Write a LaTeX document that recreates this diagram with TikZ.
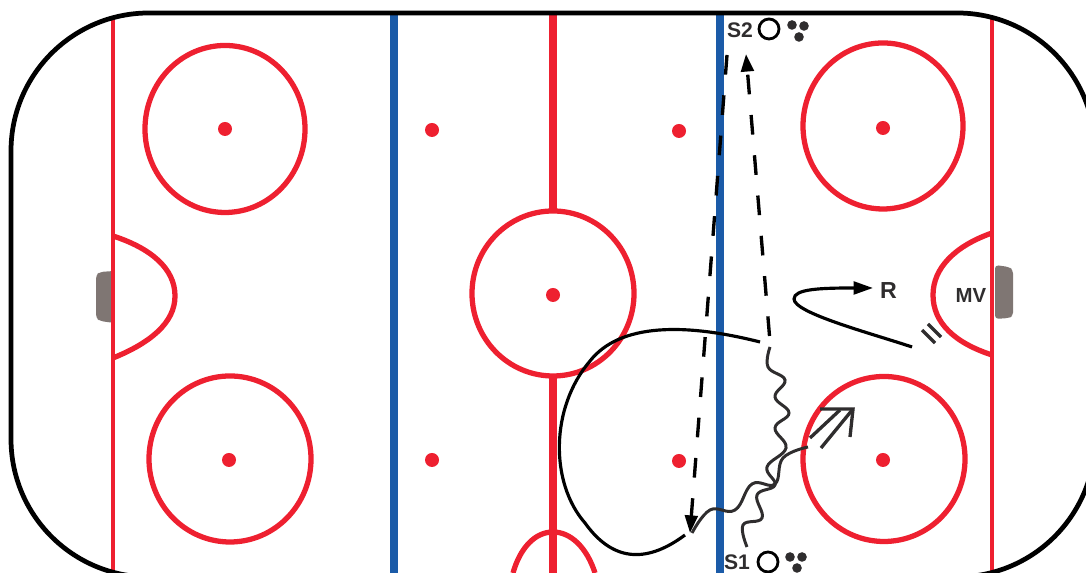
\documentclass[tikz,border=0pt]{standalone}
\usepackage{fontspec}
\setmainfont{Liberation Sans}
\usetikzlibrary{arrows.meta}
\definecolor{rinkred}{HTML}{EE2030}
\definecolor{rinkblue}{HTML}{1B5BA8}
\definecolor{goalgrey}{HTML}{7F7673}
\definecolor{labelgrey}{HTML}{2F2D2E}
\tikzset{
  board/.style={line width=1.35pt,black},
  redline/.style={line width=1.5pt,rinkred},
  goalline/.style={line width=1.1pt,rinkred},
  blueline/.style={line width=2.3pt,rinkblue},
  centerline/.style={line width=2.3pt,rinkred},
  pass/.style={line width=0.95pt,black,dash pattern=on 5.6pt off 5.9pt,-{Triangle[length=5pt,width=3.6pt]}},
  skate/.style={line width=0.9pt,black},
  puck/.style={line width=0.85pt,labelgrey,smooth,tension=0.7},
  shot/.style={line width=0.95pt,labelgrey},
  label/.style={font=\bfseries\fontsize{6}{7}\selectfont,text=labelgrey,inner sep=0pt},
  cone/.style={circle,draw=black,line width=0.8pt,minimum size=0.2cm,inner sep=0pt},
}
\begin{document}
\begin{tikzpicture}[scale=1]
  \useasboundingbox (0.00,0.00) rectangle (10.86,5.73);

  % Coordinates
  \coordinate (CircleNW) at (2.25,4.44);
  \coordinate (CircleNE) at (8.83,4.47);
  \coordinate (CircleSW) at (2.30,1.14);
  \coordinate (CircleSE) at (8.84,1.14);
  \coordinate (CircleC) at (5.53,2.795);
  \coordinate (PassOneA) at (7.27,5.18);
  \coordinate (PassOneB) at (6.90,0.40);
  \coordinate (PassTwoA) at (7.695,2.37);
  \coordinate (PassTwoB) at (7.46,5.19);
  \coordinate (LoopA) at (7.60,2.31);
  \coordinate (LoopB) at (6.85,0.38);
  \coordinate (TurnA) at (9.12,2.26);
  \coordinate (TurnB) at (8.73,2.85);
  \coordinate (ShotA) at (8.10,1.35);
  \coordinate (ShotB) at (8.40,1.63);
  \coordinate (ShotC) at (8.21,1.25);
  \coordinate (ShotD) at (8.53,1.64);
  \coordinate (BarA) at (9.22,2.43);
  \coordinate (BarB) at (9.35,2.30);
  \coordinate (BarC) at (9.28,2.49);
  \coordinate (BarD) at (9.41,2.36);

  % Goals
  \fill[goalgrey,rounded corners=1pt] (1.14,3.02) -- (1.00,3.01) -- (0.96,2.98) -- (0.96,2.55) -- (1.00,2.52) -- (1.14,2.50) -- cycle;
  \fill[goalgrey,rounded corners=1pt] (9.95,3.08) -- (10.09,3.06) -- (10.13,3.03) -- (10.13,2.57) -- (10.09,2.55) -- (9.95,2.54) -- cycle;

  % Ice markings
  \draw[goalline] (1.13,5.57) -- (1.13,0.00);
  \draw[goalline] (9.92,5.57) -- (9.92,0.00);
  \draw[blueline] (3.94,5.60) -- (3.94,0.00);
  \draw[blueline] (7.20,5.60) -- (7.20,0.00);
  \draw[centerline] (5.53,5.60) -- (5.53,3.62);
  \draw[centerline] (5.53,1.97) -- (5.53,0.00);
  \draw[redline] (CircleNW) ellipse (0.80 and 0.835);
  \draw[redline] (CircleNE) ellipse (0.80 and 0.83);
  \draw[redline] (CircleSW) ellipse (0.81 and 0.83);
  \draw[redline] (CircleSE) ellipse (0.81 and 0.825);
  \draw[redline] (CircleC) ellipse (0.81 and 0.825);
  \draw[redline] (1.13,3.37) .. controls (1.50,3.25) and (1.75,3.05) .. (1.75,2.77) .. controls (1.75,2.50) and (1.50,2.30) .. (1.13,2.15);
  \draw[redline] (9.92,3.40) .. controls (9.55,3.27) and (9.33,3.05) .. (9.33,2.78) .. controls (9.33,2.50) and (9.55,2.30) .. (9.92,2.18);
  \draw[redline] (5.13,0.00) .. controls (5.20,0.25) and (5.35,0.41) .. (5.53,0.41) .. controls (5.71,0.41) and (5.87,0.25) .. (5.95,0.00);
  \fill[rinkred] (2.25,4.44) circle (0.07);
  \fill[rinkred] (8.83,4.45) circle (0.07);
  \fill[rinkred] (2.29,1.13) circle (0.07);
  \fill[rinkred] (8.83,1.13) circle (0.07);
  \fill[rinkred] (5.53,2.78) circle (0.07);
  \fill[rinkred] (4.32,4.43) circle (0.07);
  \fill[rinkred] (6.79,4.42) circle (0.07);
  \fill[rinkred] (4.32,1.13) circle (0.07);
  \fill[rinkred] (6.79,1.12) circle (0.07);

  % Boards
  \draw[board,rounded corners=1.38cm] (0.11,-0.04) rectangle (10.95,5.60);

  % Labels
  \node[label] (S2) at (7.40,5.43) {S2};
  \node[cone] (ConeS2) at (7.69,5.44) {};
  \fill[labelgrey] (7.92,5.48) circle (0.048);
  \fill[labelgrey] (8.04,5.47) circle (0.048);
  \fill[labelgrey] (7.99,5.36) circle (0.048);
  \node[label] (S1) at (7.37,0.11) {S1};
  \node[cone] (ConeS1) at (7.68,0.11) {};
  \fill[labelgrey] (7.90,0.16) circle (0.048);
  \fill[labelgrey] (8.02,0.16) circle (0.048);
  \fill[labelgrey] (7.97,0.05) circle (0.048);
  \node[label,font=\bfseries\fontsize{6.6}{7}\selectfont] (R) at (8.885,2.82) {R};
  \node[label,font=\bfseries\fontsize{5.8}{7}\selectfont] (MV) at (9.71,2.77) {MV};

  % Drawing
  \draw[pass] (PassOneA) -- (PassOneB);
  \draw[pass] (PassTwoA) -- (PassTwoB);
  \draw[skate] (LoopA) .. controls (6.85,2.50) and (6.20,2.50) .. (5.90,2.12) .. controls (5.50,1.65) and (5.50,0.90) .. (5.85,0.50) .. controls (6.15,0.08) and (6.50,0.12) .. (LoopB);
  \draw[skate,-{Triangle[length=5.5pt,width=3.6pt]}] (TurnA) .. controls (8.70,2.40) and (7.94,2.60) .. (7.94,2.74) .. controls (7.94,2.84) and (8.20,2.85) .. (TurnB);
  \draw[puck] plot coordinates {(7.70,2.26) (7.68,2.06) (7.85,1.93) (7.75,1.76) (7.89,1.60) (7.75,1.45) (7.86,1.25) (7.67,1.06) (7.75,0.88) (7.57,0.78) (7.62,0.55) (7.43,0.48) (7.47,0.26)};
  \draw[puck] plot coordinates {(6.92,0.40) (7.10,0.63) (7.35,0.63) (7.52,0.89) (7.75,0.89) (7.83,1.15) (8.08,1.26)};
  \draw[shot] (ShotA) -- (ShotB);
  \draw[shot] (ShotC) -- (ShotD);
  \draw[shot] (8.20,1.64) -- (ShotD) -- (8.50,1.36);
  \draw[shot] (BarA) -- (BarB);
  \draw[shot] (BarC) -- (BarD);
\end{tikzpicture}
\end{document}
